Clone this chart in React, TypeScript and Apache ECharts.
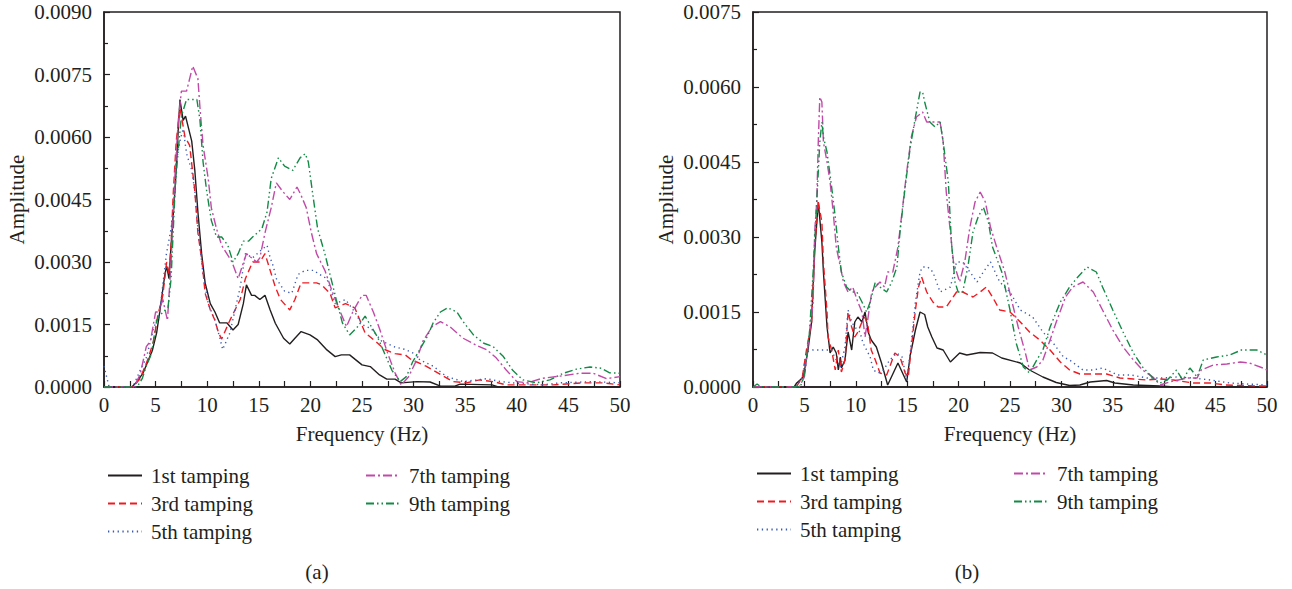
import React, { useEffect, useRef } from "react";
import * as echarts from "echarts";

const FONT = "Liberation Serif";
const TXT = "#231f20";

const seriesNames = ["1st tamping", "3rd tamping", "5th tamping", "7th tamping", "9th tamping"];
const xTicks = { min: 0, max: 50, interval: 5 };
const yMaxA = 0.009;
const yMaxB = 0.0075;
const yInterval = 0.0015;

// ---- (a) ----
const a1st = [[0,0],[2.7,0],[3.1,0.0001],[3.8,0.00034],[4.7,0.00089],[5.1,0.0013],[5.4,0.0018],[5.9,0.0027],[6.07,0.0029],[6.3,0.0026],[6.5,0.0034],[6.9,0.0048],[7.2,0.0062],[7.36,0.0069],[7.67,0.0064],[7.9,0.0065],[8.5,0.0059],[8.8,0.0052],[9.1,0.0042],[9.46,0.0032],[9.8,0.0025],[10.3,0.002],[10.75,0.0018],[11.2,0.00154],[11.9,0.00154],[12.5,0.00137],[13.0,0.0015],[13.5,0.002],[13.8,0.00245],[14.3,0.0022],[14.6,0.0022],[15.1,0.0021],[15.6,0.0022],[16.1,0.00185],[16.6,0.00153],[17.4,0.00117],[18.0,0.00103],[18.5,0.00117],[19.1,0.00133],[19.96,0.00125],[20.7,0.00113],[21.6,0.00089],[22.4,0.00073],[23.0,0.00077],[23.8,0.00077],[25.0,0.00053],[25.8,0.00049],[26.7,0.00029],[27.4,0.00019],[28.2,0.00019],[28.8,0.0001],[30.3,0.00013],[31.6,0.00012],[32.6,0.00002],[34.0,0.00002],[34.5,0.00007],[37.6,0.00005],[38.2,0],[50,0]];
const a3rd = [[0,0],[2.8,0],[3.5,0.0002],[4.3,0.0007],[4.8,0.0011],[5.2,0.0017],[5.7,0.0022],[6.07,0.003],[6.3,0.0027],[6.5,0.0034],[6.7,0.0046],[7.0,0.0059],[7.36,0.0067],[7.5,0.0065],[7.85,0.006],[8.3,0.0058],[8.8,0.0047],[9.1,0.0037],[9.5,0.003],[9.8,0.00225],[10.3,0.00185],[10.75,0.0016],[11.1,0.0013],[11.4,0.00115],[12.2,0.0016],[13.2,0.0021],[13.7,0.0026],[14.4,0.003],[15.1,0.003],[15.6,0.0032],[16.1,0.0028],[16.6,0.0024],[17.1,0.0021],[18.0,0.00185],[18.5,0.0021],[19.1,0.0025],[19.8,0.0025],[20.6,0.0025],[21.1,0.00245],[21.9,0.00225],[22.4,0.0019],[23.4,0.002],[24.3,0.0019],[25.3,0.0013],[26.3,0.0011],[27.2,0.0009],[28.2,0.0008],[29.2,0.00077],[29.8,0.00065],[30.3,0.0006],[31.2,0.0005],[32.6,0.0003],[33.8,0.00013],[35.1,0.0001],[36.4,0.00017],[37.7,0.00013],[39,0.00005],[43.5,0.00005],[46.4,0.0001],[48.4,0.0001],[50,0.00005]];
const a5th = [[0,0.0005],[0.5,0],[2.8,0],[3.5,0.0004],[4.1,0.0007],[4.8,0.0014],[5.4,0.0018],[6.05,0.0032],[6.5,0.0038],[6.9,0.0048],[7.0,0.0054],[7.36,0.0059],[7.67,0.0062],[8.0,0.0056],[8.5,0.0052],[8.8,0.0047],[9.1,0.0038],[9.6,0.0027],[10.1,0.002],[10.75,0.0016],[11.2,0.0012],[11.5,0.0009],[12.2,0.0013],[13.2,0.0024],[13.7,0.0032],[14.4,0.0031],[15.3,0.0033],[15.8,0.0034],[16.1,0.0031],[16.4,0.0029],[16.7,0.0026],[17.5,0.0023],[18.2,0.00225],[18.8,0.0027],[19.5,0.0028],[20.3,0.0028],[20.9,0.0027],[21.6,0.0026],[22.4,0.002],[23.4,0.0021],[24.3,0.0018],[25.0,0.0015],[25.9,0.0014],[26.9,0.0011],[28.2,0.00096],[29.2,0.0009],[30.1,0.0008],[30.6,0.00065],[31.9,0.0005],[33.2,0.00025],[34.8,0.00013],[37.1,0.0002],[38.4,0.00013],[39.6,0.0001],[42.5,0.00005],[44.2,0.0001],[47.4,0.00013],[50,0.0001]];
const a7th = [[0,0],[2.9,0],[3.5,0.0003],[4.1,0.00097],[4.5,0.0011],[5.0,0.0018],[5.3,0.0018],[5.7,0.0021],[6.15,0.0016],[6.5,0.003],[6.9,0.0052],[7.2,0.0064],[7.5,0.0071],[8.0,0.0071],[8.3,0.0074],[8.6,0.0077],[9.1,0.0074],[9.3,0.0067],[9.6,0.0058],[10.1,0.005],[10.4,0.0043],[10.9,0.0038],[11.4,0.0034],[11.9,0.0032],[12.4,0.003],[13.0,0.0026],[13.8,0.0032],[14.8,0.003],[15.1,0.0031],[15.6,0.0037],[16.2,0.0043],[16.7,0.0049],[17.3,0.0047],[18.0,0.0045],[18.7,0.0048],[19.1,0.0046],[19.6,0.0043],[20.1,0.0037],[20.6,0.0032],[21.4,0.0028],[22.1,0.0023],[22.9,0.0018],[23.5,0.00145],[24.1,0.0018],[25.0,0.0022],[25.4,0.0022],[26.1,0.0018],[26.7,0.0014],[27.5,0.0008],[28.2,0.00034],[28.8,0.00005],[29.5,0.00024],[30.3,0.00065],[30.9,0.0011],[31.8,0.00145],[32.6,0.00157],[33.5,0.00145],[34.8,0.00117],[36.1,0.001],[37.1,0.00089],[38.0,0.0007],[39,0.0004],[40,0.00013],[41,0.0001],[42.5,0.00021],[44.2,0.00026],[46.1,0.00033],[47.4,0.00033],[48.7,0.0002],[50,0.00025]];
const a9th = [[0,0],[3.2,0],[3.7,0.0002],[4.1,0.0005],[4.6,0.0008],[5.1,0.0016],[5.7,0.0018],[6.2,0.0019],[6.5,0.0026],[6.9,0.0048],[7.2,0.0057],[7.5,0.0065],[8.0,0.0069],[8.5,0.0069],[9.0,0.0069],[9.3,0.0064],[9.6,0.0054],[9.95,0.0047],[10.4,0.004],[10.9,0.0036],[11.4,0.0036],[12.0,0.0034],[12.5,0.003],[13.0,0.0032],[13.5,0.0035],[14.0,0.0035],[14.4,0.0036],[15.3,0.0038],[15.8,0.0042],[16.2,0.005],[16.9,0.0055],[17.5,0.0053],[18.3,0.0052],[19.0,0.0055],[19.5,0.0056],[19.8,0.0054],[20.3,0.0045],[20.7,0.0038],[21.4,0.0032],[21.9,0.0027],[22.5,0.0021],[23.1,0.00154],[23.8,0.00125],[24.6,0.00145],[25.3,0.0017],[25.9,0.00145],[26.5,0.0012],[27.2,0.0008],[27.9,0.0004],[28.7,0.00013],[29.3,0.00025],[29.9,0.0006],[30.6,0.0009],[31.3,0.0012],[31.9,0.00154],[32.6,0.0018],[33.3,0.0019],[34.2,0.0018],[34.8,0.00157],[35.8,0.00125],[36.8,0.00105],[37.7,0.00097],[38.7,0.00073],[39.6,0.0004],[40.6,0.00017],[41.9,0.0001],[43.2,0.00017],[44.5,0.00033],[45.8,0.00043],[47.1,0.00048],[48.2,0.00045],[49,0.00034],[50,0.00033]];

// ---- (b) ----
const b1st = [[0,0],[4.0,0],[4.25,0.00008],[4.9,0.0002],[5.35,0.00074],[5.7,0.0013],[6.0,0.0027],[6.35,0.0037],[6.7,0.0029],[6.85,0.0023],[7.2,0.0012],[7.5,0.00068],[7.8,0.0008],[8.1,0.00068],[8.3,0.00034],[8.5,0.0006],[8.6,0.00038],[8.95,0.00054],[9.25,0.0011],[9.6,0.00074],[9.9,0.0013],[10.2,0.0014],[10.6,0.0013],[10.9,0.0015],[11.2,0.0011],[11.5,0.00094],[12.0,0.0008],[12.5,0.00048],[13.1,0.00004],[14.1,0.00048],[14.95,0.0001],[15.3,0.00064],[15.8,0.00114],[16.25,0.0015],[16.7,0.00145],[17.0,0.0012],[17.4,0.001],[17.9,0.00078],[18.5,0.00074],[19.2,0.0005],[20.1,0.00068],[20.8,0.00064],[22.1,0.00069],[23.3,0.00068],[24.2,0.00058],[26,0.00048],[26.9,0.00034],[28.2,0.0002],[29.5,0.00009],[30.8,0.00003],[31.8,0.00004],[32.8,0.0001],[34.4,0.00013],[35.2,0.00008],[37,0.00004],[39.6,0.00002],[41,0],[50,0]];
const b3rd = [[0,0],[4.2,0],[4.8,0.0002],[5.2,0.00074],[5.7,0.0013],[6.0,0.0028],[6.35,0.0037],[6.7,0.0033],[6.85,0.0025],[7.2,0.0015],[7.3,0.001],[7.65,0.00074],[8.0,0.00034],[8.3,0.00074],[8.6,0.0003],[8.95,0.00054],[9.25,0.0015],[9.6,0.0012],[9.9,0.001],[10.2,0.0011],[10.6,0.0013],[10.9,0.0014],[11.2,0.0012],[11.5,0.00074],[11.9,0.00054],[12.35,0.00028],[13.0,0.00024],[13.8,0.00068],[14.3,0.0006],[14.8,0.00028],[15.1,0.0002],[15.45,0.00088],[15.8,0.00154],[16.1,0.002],[16.4,0.0022],[16.9,0.0019],[17.5,0.0017],[18.0,0.0016],[18.8,0.0016],[19.8,0.0019],[20.4,0.0019],[21.4,0.0018],[22.1,0.0019],[22.7,0.002],[23.3,0.0018],[24.0,0.00154],[25.0,0.0015],[26.0,0.0013],[26.9,0.0011],[27.9,0.00094],[28.9,0.00074],[29.9,0.0005],[30.8,0.00034],[31.8,0.00026],[33.1,0.00026],[34.4,0.00026],[35.7,0.00018],[37,0.00016],[38.3,0.00014],[39.6,0.00016],[40.9,0.00014],[42.8,0.00008],[44.5,0.00008],[46,0.00004],[49.2,0.00002],[50,0.00002]];
const b5th = [[0,0],[4.2,0],[4.8,0.0002],[5.2,0.0007],[5.8,0.00074],[7.6,0.00074],[8.1,0.00054],[8.5,0.0004],[8.95,0.0008],[9.25,0.00154],[9.6,0.0013],[9.9,0.0012],[10.4,0.0011],[10.7,0.00088],[11.05,0.00074],[11.4,0.0006],[11.7,0.00034],[12.2,0.00028],[12.7,0.00034],[13.3,0.00054],[14,0.00068],[14.5,0.0006],[14.95,0.00014],[15.3,0.00068],[15.8,0.0017],[16.25,0.0023],[16.5,0.0024],[17.0,0.0024],[17.5,0.0023],[18.2,0.0019],[19.2,0.002],[19.8,0.0025],[20.4,0.0025],[21.1,0.0023],[21.8,0.0021],[22.4,0.0023],[23.1,0.0025],[24,0.0021],[25,0.0019],[26,0.00154],[27.2,0.0014],[28.2,0.0011],[29.2,0.00088],[30.2,0.0006],[30.8,0.00054],[32.1,0.00034],[33.1,0.00034],[34,0.00038],[35.5,0.00024],[36.8,0.00024],[38.3,0.00018],[39.9,0.00018],[41.2,0.0002],[42.8,0.00018],[44.5,0.00014],[46.4,0.00008],[48,0.00006],[50,0.00004]];
const b7th = [[0,0],[4.5,0],[5.0,0.0002],[5.5,0.0011],[5.85,0.0017],[6.0,0.0031],[6.2,0.0037],[6.35,0.0049],[6.5,0.0058],[6.7,0.0057],[6.85,0.0049],[7.2,0.0045],[7.5,0.0041],[7.8,0.0035],[8.1,0.0028],[8.5,0.0024],[8.8,0.0021],[9.25,0.0019],[9.7,0.002],[10.2,0.0017],[10.6,0.0015],[10.9,0.001],[11.2,0.0014],[11.55,0.0019],[11.9,0.002],[12.35,0.0021],[12.8,0.002],[13.1,0.0023],[13.6,0.0023],[14.1,0.0028],[14.5,0.0035],[14.95,0.0043],[15.4,0.005],[15.9,0.0054],[16.5,0.0055],[16.9,0.0053],[17.5,0.0053],[18.2,0.0053],[18.5,0.0049],[18.8,0.0039],[19.2,0.0031],[19.5,0.0025],[19.8,0.0023],[20.1,0.0021],[20.6,0.0025],[21.1,0.0032],[21.6,0.0037],[22.1,0.0039],[22.6,0.0037],[23.1,0.0032],[23.7,0.0028],[24.5,0.0023],[25.2,0.0017],[25.8,0.0012],[26.5,0.00068],[26.9,0.00034],[27.6,0.0004],[28.2,0.00054],[28.9,0.00094],[29.5,0.0013],[30.4,0.0018],[31.1,0.002],[32.1,0.0021],[33.1,0.0019],[34,0.00154],[35,0.00114],[36,0.0008],[37,0.00054],[37.9,0.00034],[38.9,0.0002],[39.6,0.00004],[40.5,0.0001],[42.2,0.00018],[43.2,0.00018],[43.6,0.00034],[44.8,0.00044],[46.1,0.00046],[47.4,0.0005],[48.3,0.00048],[49.6,0.00038],[50,0.00034]];
const b9th = [[0,0],[0.4,0.00006],[0.8,0],[4.6,0],[5.05,0.00028],[5.5,0.0011],[5.85,0.0023],[6.2,0.0037],[6.5,0.0049],[6.7,0.0053],[6.85,0.005],[7.2,0.0047],[7.65,0.004],[8.0,0.0034],[8.3,0.0028],[8.6,0.0023],[9.1,0.002],[9.6,0.0019],[10.1,0.0019],[10.6,0.0017],[11.05,0.0015],[11.4,0.0017],[11.9,0.0021],[12.35,0.002],[13,0.0019],[13.5,0.0021],[14,0.0024],[14.3,0.0031],[14.8,0.004],[15.3,0.0048],[15.8,0.0054],[16.25,0.0059],[16.5,0.0059],[16.7,0.0057],[17.2,0.0053],[17.7,0.0052],[18.2,0.0053],[18.5,0.0049],[19,0.0041],[19.3,0.0029],[19.65,0.0021],[19.95,0.0019],[20.4,0.0019],[20.9,0.0024],[21.4,0.0031],[21.9,0.0034],[22.4,0.0036],[22.9,0.0033],[23.3,0.0028],[24.2,0.0023],[25,0.00154],[25.6,0.00088],[26.3,0.0004],[26.9,0.00028],[27.6,0.00054],[28.2,0.00074],[28.9,0.0012],[29.9,0.0017],[30.8,0.002],[31.6,0.0022],[32.5,0.0024],[33.4,0.0023],[34,0.002],[35,0.00154],[36,0.0011],[37,0.00068],[37.9,0.0004],[38.9,0.00018],[39.6,0.00008],[40.3,0.00014],[41.2,0.00034],[41.8,0.00014],[42.5,0.00038],[43.2,0.0002],[43.8,0.00054],[45.1,0.0006],[46.4,0.00064],[47.5,0.00074],[49,0.00074],[50,0.00064]];

const panelA = [a1st, a3rd, a5th, a7th, a9th];
const panelB = [b1st, b3rd, b5th, b7th, b9th];

const styles = [
  { color: "#231f20", type: "solid" as any, width: 1.4 },
  { color: "#ed1c24", type: [7, 4] as any, width: 1.4 },
  { color: "#3b5bb5", type: [1.3, 3.5] as any, width: 1.4 },
  { color: "#c04aa8", type: [9, 3, 2, 3] as any, width: 1.4 },
  { color: "#138a46", type: [8, 3, 1.5, 3, 1.5, 3] as any, width: 1.4 },
];

export default function App() {
  const ref = useRef<HTMLDivElement>(null);
  useEffect(() => {
    if (!ref.current) return;
    const chart = echarts.init(ref.current, null, { renderer: "svg" });
    const txt = { fontFamily: FONT, fontSize: 21, color: TXT };
    const grids = [
      { left: 104, top: 12, width: 516, height: 375 },
      { left: 753, top: 12, width: 514, height: 375 },
    ];
    const xAxes = grids.map((_, i) => ({
      type: "value",
      gridIndex: i,
      min: xTicks.min,
      max: xTicks.max,
      interval: xTicks.interval,
      name: "Frequency (Hz)",
      nameLocation: "middle",
      nameGap: 36,
      nameTextStyle: txt,
      axisLine: { show: true, lineStyle: { color: TXT, width: 1.5 } },
      axisTick: { show: true, inside: true, length: 6, lineStyle: { color: TXT, width: 1.2 } },
      minorTick: { show: true, splitNumber: 2, length: 6, lineStyle: { color: TXT, width: 1.2 } },
      splitLine: { show: false },
      axisLabel: { ...txt, margin: 7 },
    }));
    const yAxes = [yMaxA, yMaxB].map((mx, i) => ({
      type: "value",
      gridIndex: i,
      min: 0,
      max: mx,
      interval: yInterval,
      name: "Amplitude",
      nameLocation: "middle",
      nameGap: 77,
      nameRotate: 90,
      nameTextStyle: txt,
      axisLine: { show: true, lineStyle: { color: TXT, width: 1.5 } },
      axisTick: { show: true, inside: true, length: 6, lineStyle: { color: TXT, width: 1.2 } },
      minorTick: { show: true, splitNumber: 2, length: 4, lineStyle: { color: TXT, width: 1.2 } },
      splitLine: { show: false },
      axisLabel: { ...txt, margin: 12, formatter: (v: number) => v.toFixed(4) },
    }));
    const series: any[] = [];
    [panelA, panelB].forEach((panel, pi) => {
      panel.forEach((data, si) => {
        series.push({
          type: "line",
          name: seriesNames[si],
          xAxisIndex: pi,
          yAxisIndex: pi,
          data,
          symbol: "none",
          showSymbol: false,
          lineStyle: styles[si],
          itemStyle: { color: styles[si].color },
          emphasis: { disabled: true },
        });
      });
    });
    const legendBase = {
      orient: "vertical",
      itemWidth: 34,
      itemHeight: 14,
      itemGap: 7,
      selectedMode: false,
      itemStyle: { opacity: 0 },
      textStyle: { ...txt, padding: [0, 0, 0, 4], lineHeight: 20 },
    };
    const col1 = seriesNames.slice(0, 3);
    const col2 = seriesNames.slice(3);
    chart.setOption({
      animation: false,
      grid: grids.map((g) => ({ ...g, show: true, borderColor: TXT, borderWidth: 1.5, backgroundColor: "transparent" })),
      xAxis: xAxes,
      yAxis: yAxes,
      series,
      legend: [
        { ...legendBase, left: 102, top: 460, data: col1 },
        { ...legendBase, left: 360, top: 460, data: col2 },
        { ...legendBase, left: 751, top: 458, data: col1 },
        { ...legendBase, left: 1008, top: 458, data: col2 },
      ],
      graphic: [
        { type: "text", x: 317, y: 572, style: { text: "(a)", ...txt, fill: TXT, align: "center", verticalAlign: "middle" } },
        { type: "text", x: 967, y: 572, style: { text: "(b)", ...txt, fill: TXT, align: "center", verticalAlign: "middle" } },
      ],
    });
    return () => chart.dispose();
  }, []);
  return (
    <div
      ref={ref}
      style={{ position: "absolute", left: 0, top: 0, width: 1292, height: 589 }}
    />
  );
}
